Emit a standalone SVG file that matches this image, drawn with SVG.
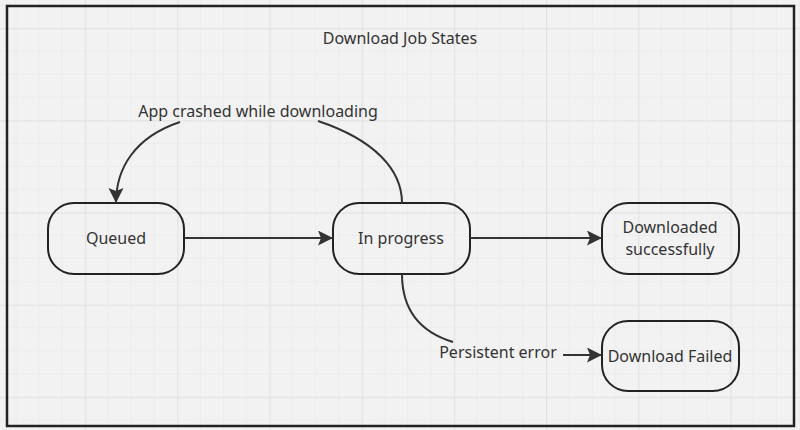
<svg xmlns="http://www.w3.org/2000/svg" width="800" height="430" viewBox="0 0 800 430">
<defs>
<pattern id="grid" patternUnits="userSpaceOnUse" x="-7.2" y="-64.2" width="92.2" height="92.2">
<rect width="92.2" height="92.2" fill="#f2f2f2"/>
<path d="M23.05,0V92.2M46.1,0V92.2M69.15,0V92.2M0,23.05H92.2M0,46.1H92.2M0,69.15H92.2" stroke="#ececec" stroke-width="1" fill="none"/>
<path d="M0.5,0V92.2M0,0.5H92.2" stroke="#e3e3e3" stroke-width="1.5" fill="none"/>
</pattern>
<marker id="arr" markerUnits="userSpaceOnUse" markerWidth="17" markerHeight="17" refX="15" refY="7.5" orient="auto" viewBox="0 0 17 17">
<path d="M0,0 L15,7.5 L0,15 L3,7.5 Z" fill="#333"/>
</marker>
</defs>
<style>
.node rect{fill:none;stroke:#222;stroke-width:2}
text{font-family:"Noto Sans","Open Sans",sans-serif;font-size:16px;fill:#333;text-anchor:middle}
.conn path{fill:none;stroke:#333;stroke-width:2}
</style>
<rect width="800" height="430" fill="url(#grid)"/>
<rect id="frame" x="7" y="6" width="787" height="420" fill="none" stroke="#222" stroke-width="2.5"/>
<text id="title" x="400" y="44">Download Job States</text>
<g id="queued" class="node"><rect x="48" y="203" width="136" height="71" rx="26"/><text x="116" y="244">Queued</text></g>
<g id="inprogress" class="node"><rect x="333" y="203" width="137" height="71" rx="26"/><text x="401" y="244">In progress</text></g>
<g id="downloaded" class="node"><rect x="602" y="203" width="137" height="71" rx="26"/><text x="670" y="233">Downloaded</text><text x="670" y="255">successfully</text></g>
<g id="failed" class="node"><rect x="602" y="321" width="137" height="70" rx="26"/><text x="670" y="362">Download Failed</text></g>
<g id="connectors" class="conn">
<path d="M184,238 H333" marker-end="url(#arr)"/>
<path d="M470,238 H602" marker-end="url(#arr)"/>
<path d="M318,121 C375,140 402,170 402,203"/>
<path d="M180,122 C135,137 116,168 116,203" marker-end="url(#arr)"/>
<path d="M402,274 C402,310 420,332 453,342"/>
<path d="M563,355 H602" marker-end="url(#arr)"/>
<text x="258" y="117">App crashed while downloading</text>
<text x="498" y="358">Persistent error</text>
</g>
</svg>
